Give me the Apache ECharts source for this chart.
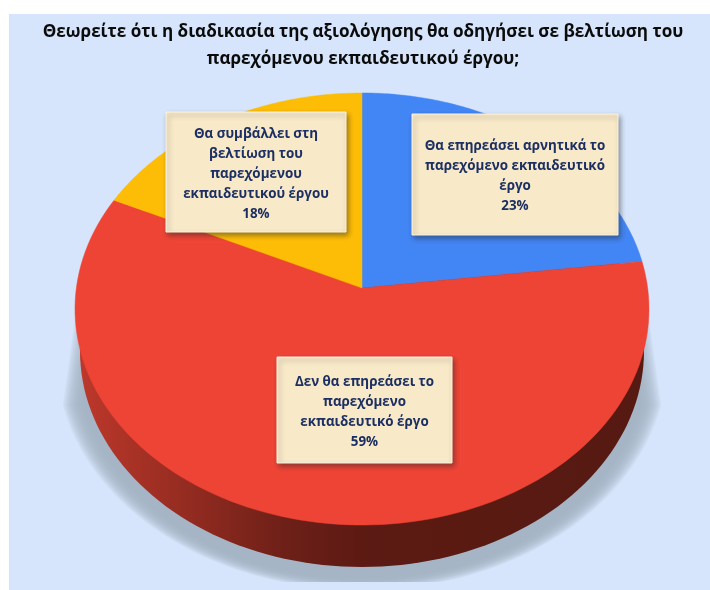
<!DOCTYPE html>
<html><head><meta charset="utf-8">
<style>html,body{margin:0;padding:0;background:#fff}#c{width:710px;height:590px}</style>
<script src="https://cdn.jsdelivr.net/npm/echarts@6/dist/echarts.min.js"></script>
</head><body><div id="c"></div>
<script>
const titleLines = ['Θεωρείτε ότι η διαδικασία της αξιολόγησης θα οδηγήσει σε βελτίωση του','παρεχόμενου εκπαιδευτικού έργου;'];
const categories = ['Θα επηρεάσει αρνητικά το\nπαρεχόμενο εκπαιδευτικό\nέργο','Δεν θα επηρεάσει το\nπαρεχόμενο\nεκπαιδευτικό έργο','Θα συμβάλλει στη\nβελτίωση του\nπαρεχόμενου\nεκπαιδευτικού έργου'];
const values = [23,59,18];
const colors = ['#4285f4','#ee4435','#fdbc05'];

// layout of the tilted disc
const G = {cx:362, cy:309, rx:287, ry:216, apexY:288};
const LOW = {cx:362, cy:351, rx:282, ry:216};
const BOXES = [{x:412,y:114,w:206,h:121},{x:277,y:357,w:175,h:106},{x:166,y:112,w:180,h:120}];

function ell(E,a0,a1,n){const p=[];for(let i=0;i<=n;i++){const a=a0+(a1-a0)*i/n;p.push([E.cx+E.rx*Math.cos(a),E.cy+E.ry*Math.sin(a)]);}return p;}
function rimAngle(frac){
  const t=frac*2*Math.PI, dx=Math.sin(t), dy=-Math.cos(t), ay=(G.apexY-G.cy)/G.ry;
  const b=ay*dy, c=ay*ay-1, s=-b+Math.sqrt(b*b-c);
  return Math.atan2(ay+s*dy, s*dx);
}
const total=values.reduce((a,b)=>a+b,0);
const seriesData=categories.map((n,i)=>({name:n,value:values[i]}));

const option={
  animation:false,
  backgroundColor:'#fff',
  title:[
   {text:titleLines.join('\n'),left:358,top:14,textAlign:'center',
    textStyle:{fontFamily:'"Open Sans"',fontWeight:'bold',fontSize:17.1,lineHeight:27,color:'#0b0b0b'}}
  ],
  graphic:[
    {type:'rect',z:-10,silent:true,shape:{x:9,y:14,width:701,height:576},style:{fill:'#d6e5fb'}}
  ],
  series:[
   {type:'custom',z:1,silent:true,coordinateSystem:'none',data:[0],
    renderItem(){
      const layers=[];
      const N=16;
      for(let k=0;k<N;k++){
        const u=k/(N-1);
        const rx=305-u*20, ry=230-u*11, top=290+u*50;
        const a0=Math.asin(45/ry);
        const halfTop=283-u*12;
        layers.push({type:'polygon',z2:k,shape:{points:[[362-halfTop,top],[362+halfTop,top],...ell({cx:362,cy:360,rx,ry},a0,Math.PI-a0,90)]},
          style:{fill:'rgba(160,174,196,0.13)'}});
      }
      return {type:'group',children:[
        ...layers,
        {type:'rect',shape:{x:9,y:582,width:701,height:8},z2:30,style:{fill:'#d6e5fb'}},
        {type:'polygon',z2:31,shape:{points:ell(LOW,0,2*Math.PI,180)},style:{fill:new echarts.graphic.LinearGradient(0,0,1,0,[
          {offset:0,color:'#bc382b'},{offset:0.18,color:'#962c21'},{offset:0.36,color:'#6e2018'},{offset:0.5,color:'#5c1a13'},{offset:1,color:'#561a12'}])}}
      ]};
    }},
   {type:'custom',z:2,silent:true,coordinateSystem:'none',data:seriesData,
    renderItem(params,api){
      const i=params.dataIndex;
      let before=0;for(let k=0;k<i;k++)before+=values[k];
      const f0=before/total,f1=(before+api.value(0))/total;
      const a0=rimAngle(f0);let a1=rimAngle(f1);
      const end=a1<a0?a1+2*Math.PI:a1;
      const pts=[[G.cx,G.apexY],...ell(G,a0,end,120)];
      return {type:'polygon',shape:{points:pts},style:{fill:colors[i],stroke:colors[i],lineWidth:0.5}};
    },
    encode:{value:0}},
   {type:'custom',z:3,silent:true,coordinateSystem:'none',data:seriesData,
    renderItem(params,api){
      const i=params.dataIndex,b=BOXES[i];
      return {type:'group',children:[
        {type:'rect',shape:{x:b.x,y:b.y,width:b.w,height:b.h},
         style:{fill:'#f8e9c8',stroke:'#fbf3e2',lineWidth:1,shadowBlur:5,shadowOffsetX:2,shadowOffsetY:3,shadowColor:'rgba(40,40,40,0.45)'}},
        {type:'text',z2:2,style:{x:b.x+b.w/2,y:b.y+b.h/2+2,text:categories[i]+'\n'+api.value(0)+'%',align:'center',verticalAlign:'middle',
          fontFamily:'"Open Sans"',fontWeight:'bold',fontSize:13.4,lineHeight:20,fill:'#1c2f63'}}
      ]};
    },
    encode:{value:0}}
  ]
};
echarts.init(document.getElementById('c')).setOption(option);
</script></body></html>
